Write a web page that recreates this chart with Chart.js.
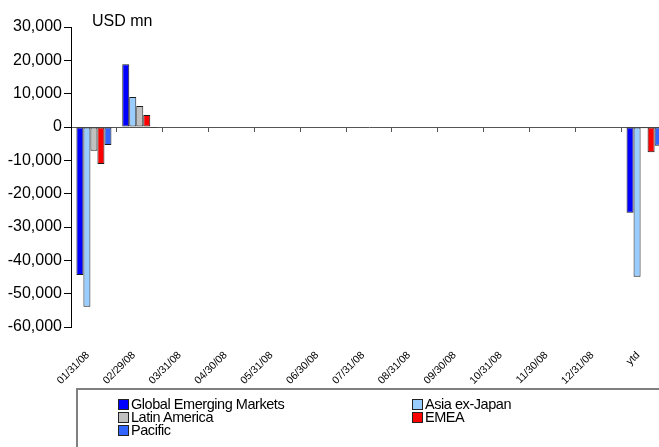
<!DOCTYPE html>
<html>
<head>
<meta charset="utf-8">
<script src="https://cdn.jsdelivr.net/npm/chart.js@4/dist/chart.umd.min.js"></script>
<style>
  html, body { margin: 0; padding: 0; overflow: hidden; background: #fff; }
  body { width: 659px; height: 447px; position: relative; }
  #wrap { position: absolute; left: 0; top: 0; width: 667px; height: 447px; }
  #legend {
    position: absolute; left: 76px; top: 388px; width: 600px; height: 80px;
    border-top: 2px solid #808080; border-left: 2px solid #808080;
    font-family: "Liberation Sans", Arial, sans-serif; font-size: 14.5px;
    letter-spacing: -0.45px; color: #000;
  }
  .item { position: absolute; white-space: nowrap; line-height: 13px; height: 13px; }
  .sw { position: absolute; left: 0; top: 1px; width: 9px; height: 9px; border: 1px solid #222; }
  .lbl { position: absolute; left: 13px; top: 0; }
</style>
</head>
<body>
<div id="wrap"><canvas id="c" width="667" height="447"></canvas></div>
<div id="legend"></div>
<script>
// Monthly net flows by region, USD mn
const categories = ['01/31/08', '02/29/08', '03/31/08', '04/30/08', '05/31/08', '06/30/08',
  '07/31/08', '08/31/08', '09/30/08', '10/31/08', '11/30/08', '12/31/08', 'ytd'];

const seriesNames = ['Global Emerging Markets', 'Asia ex-Japan', 'Latin America', 'EMEA', 'Pacific'];

const globalEM   = [-44400, 18800, null, null, null, null, null, null, null, null, null, null, -25700];
const asiaExJp   = [-53900,  9000, null, null, null, null, null, null, null, null, null, null, -44900];
const latAm      = [ -7100,  6300, null, null, null, null, null, null, null, null, null, null,   -400];
const emea       = [-11100,  3600, null, null, null, null, null, null, null, null, null, null,  -7600];
const pacific    = [ -5400,  -300, null, null, null, null, null, null, null, null, null, null,  -5600];

const yTicks = [30000, 20000, 10000, 0, -10000, -20000, -30000, -40000, -50000, -60000];

const colors = ['#0000FF', '#99CCFF', '#C0C0C0', '#FF0000', '#3366FF'];
const seriesValues = [globalEM, asiaExJp, latAm, emea, pacific];

const FONT = '"Liberation Sans", Arial, sans-serif';

// Axis caption above the value axis
const unitCaption = {
  id: 'unitCaption',
  afterDraw(chart) {
    const { ctx, chartArea } = chart;
    ctx.save();
    ctx.font = '16px ' + FONT;
    ctx.fillStyle = '#000';
    ctx.textAlign = 'left';
    ctx.textBaseline = 'alphabetic';
    ctx.fillText('USD mn', chartArea.left + 21, chartArea.top - 1);
    ctx.restore();
  }
};

const chart = new Chart(document.getElementById('c'), {
  type: 'bar',
  data: {
    labels: categories,
    datasets: seriesNames.map((name, i) => ({
      label: name,
      data: seriesValues[i],
      backgroundColor: colors[i],
      borderColor: '#1a1a1a',
      borderWidth: 1,
      borderSkipped: false,
      categoryPercentage: 0.764,
      barPercentage: 1.0
    }))
  },
  options: {
    responsive: false,
    animation: false,
    events: [],
    layout: { padding: { top: 27, left: 0, right: 0, bottom: 0 } },
    plugins: { legend: { display: false }, tooltip: { enabled: false } },
    scales: {
      x: {
        type: 'category',
        position: 'bottom',
        offset: true,
        border: { display: false },
        grid: { display: false, drawTicks: false },
        ticks: {
          autoSkip: false, minRotation: 45, maxRotation: 45,
          padding: 22, labelOffset: -6,
          color: '#000', font: { family: FONT, size: 10.5 }
        },
        afterFit(scale) {
          scale.height = 120;
          scale.paddingLeft = 0;
          scale.paddingRight = 0;
        }
      },
      x0: {
        type: 'category',
        labels: categories,
        position: { y: 0 },
        offset: true,
        border: { display: true, color: '#555', width: 1 },
        grid: { offset: true, drawOnChartArea: false, drawTicks: true, tickLength: 4, color: '#555' },
        ticks: { display: false }
      },
      y: {
        min: -60000, max: 30000,
        afterBuildTicks(scale) { scale.ticks = yTicks.map(v => ({ value: v })); },
        border: { display: true, color: '#000', width: 1 },
        grid: { drawOnChartArea: false, drawTicks: true, tickLength: 7, color: '#000' },
        ticks: {
          padding: 2, color: '#000', font: { family: FONT, size: 16 },
          callback: v => v.toLocaleString('en-US')
        },
        afterFit(scale) { scale.width = 71; }
      }
    }
  },
  plugins: [unitCaption]
});

// Legend laid out in two columns from the chart's datasets
const legendEl = document.getElementById('legend');
const slots = [[40, 8], [334, 8], [40, 21], [334, 21], [40, 34]];
chart.data.datasets.forEach((ds, i) => {
  const item = document.createElement('div');
  item.className = 'item';
  item.style.left = slots[i][0] + 'px';
  item.style.top = slots[i][1] + 'px';
  const sw = document.createElement('span');
  sw.className = 'sw';
  sw.style.background = ds.backgroundColor;
  const lbl = document.createElement('span');
  lbl.className = 'lbl';
  lbl.textContent = ds.label;
  item.appendChild(sw);
  item.appendChild(lbl);
  legendEl.appendChild(item);
});
</script>
</body>
</html>
